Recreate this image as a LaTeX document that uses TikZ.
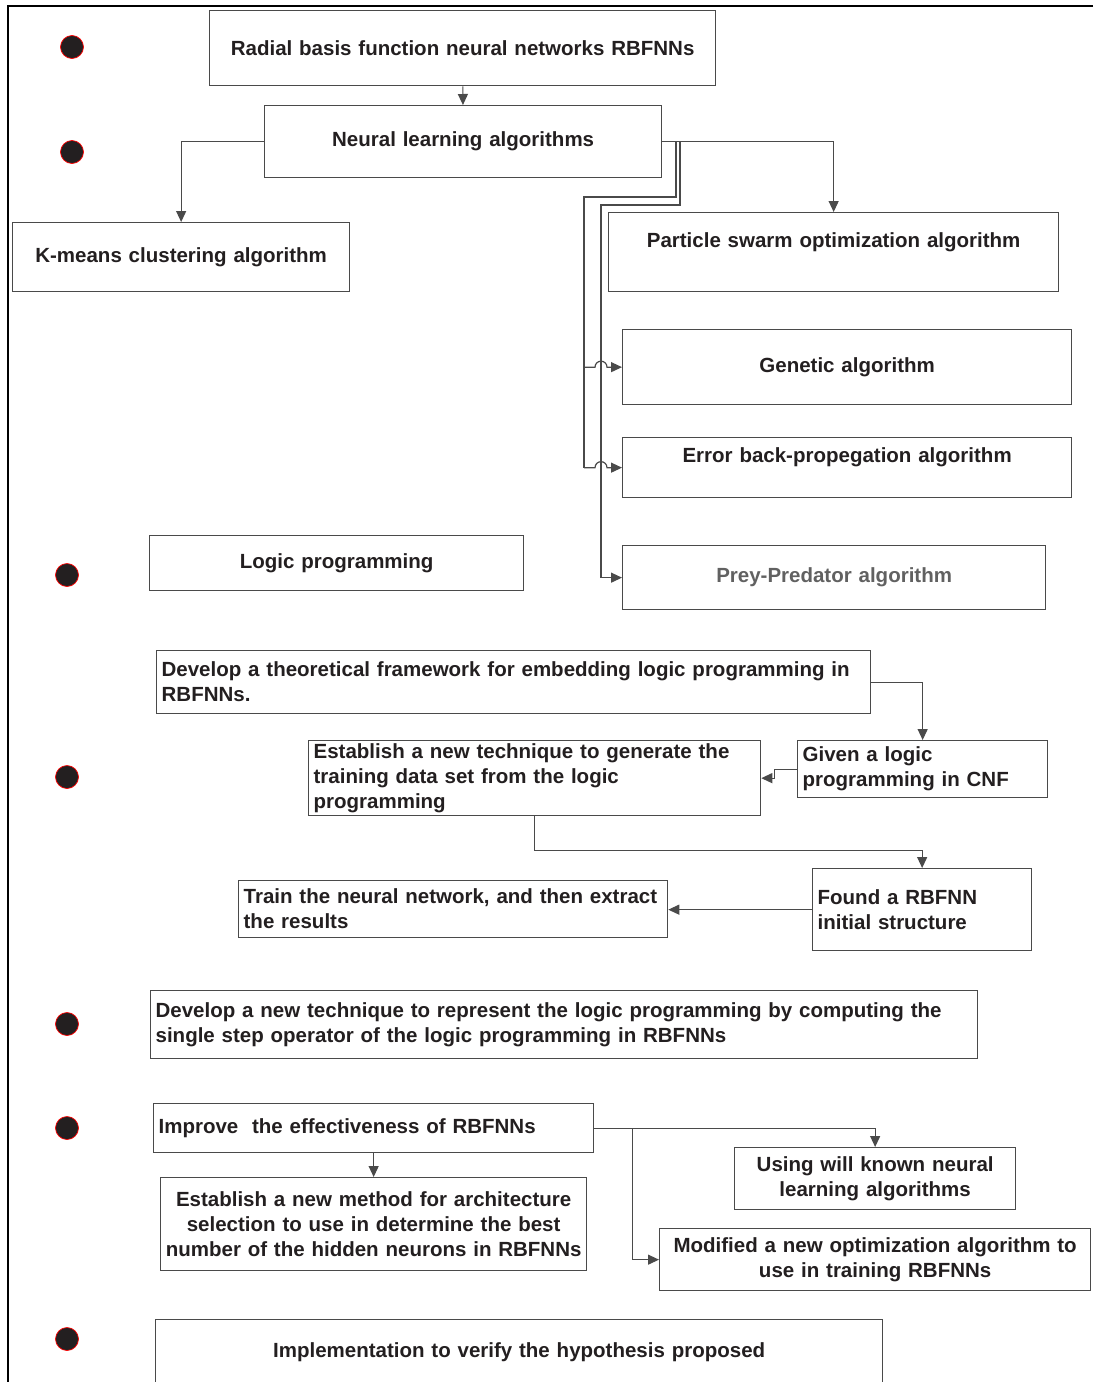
\documentclass[tikz,border=0pt]{standalone}
\usepackage{fontspec}
\setmainfont{Liberation Sans}
\usetikzlibrary{
  calc,
  positioning,
  arrows.meta
}
\definecolor{ink}{HTML}{231F20}
\definecolor{rule}{HTML}{4A4A4A}
\tikzset{%
  box/.style={draw=rule, line width=1.3pt, inner xsep=5pt, inner ysep=0pt,
    anchor=north west, text=ink,
    font=\bfseries\fontsize{20.5pt}{25pt}\selectfont}, % every frame of the chart
  link/.style={draw=rule, line width=1.2pt},
  arrowed/.style={link, -{Triangle[length=11pt,width=10pt]}},
  dot/.style={circle, fill=ink, draw=red, line width=0.7pt,
    minimum size=23pt, inner sep=0pt}
}

\begin{document}
\begin{tikzpicture}[x=1pt, y=-1pt]
  \clip (0,0) rectangle (1093,1382);
  % outer frame, only top and left are shown
  \draw[line width=2.2pt] (1093,6) -- (8,6) -- (8,1382);

  \foreach \y [count=\i] in {47,152,575,777,1024,1128,1339}{%
    \ifnum\i<3
      \node[dot] (dot\i) at (72,\y) {};
    \else
      \node[dot] (dot\i) at (67,\y) {};
    \fi
  }

  % first part: the learning algorithms
  \node[box, text width=496pt, minimum height=75pt, align=center] (rbf) at (209,10)
    {Radial basis function neural networks RBFNNs};
  \node[box, text width=387pt, minimum height=72pt, align=center] (nla) at (264,105)
    {Neural learning algorithms};
  \node[box, text width=327pt, minimum height=69pt, align=center] (km) at (12,222)
    {K-means clustering algorithm};
  \node[box, text width=440pt, minimum height=79pt, align=center,
    text height=15pt, text depth=25pt] (pso) at (608,212)
    {Particle swarm optimization algorithm};
  \node[box, text width=439pt, minimum height=75pt, align=center] (gen) at (622,329)
    {Genetic algorithm};
  \node[box, text width=439pt, minimum height=60pt, align=center,
    text height=15pt, text depth=26pt] (err) at (622,437)
    {Error back-propegation algorithm};
  \node[box, text width=413pt, minimum height=64pt, align=center, text=black!62] (prey) at (622,545)
    {Prey-Predator algorithm};

  \coordinate (busa) at (584,197);
  \coordinate (busb) at (601,205);
  \draw[arrowed] (rbf) -- (nla);
  \draw[arrowed] (nla.west) -| (km.north);
  \draw[arrowed] (nla.east) -| (pso.north);
  \draw[link] (nla.east) -| (676,197) -- (busa) -- (busa |- err.west);
  \draw[arrowed] (busa |- gen.west) -- ++(11,0) arc (180:360:6) -- (gen.west);
  \draw[arrowed] (busa |- err.west) -- ++(11,0) arc (180:360:6) -- (err.west);
  \draw[arrowed] (nla.east) -| (680,205) -- (busb) |- (prey.west);

  % second part: logic programming
  \node[box, text width=364pt, minimum height=55pt, align=center] (lgp) at (149,535)
    {Logic programming};
  \node[box, text width=704pt, minimum height=63pt, align=left] (dev) at (156,650)
    {Develop a theoretical framework for embedding logic programming in\\RBFNNs.};
  \node[box, text width=240pt, minimum height=57pt, align=left] (giv) at (797,740)
    {Given a logic\\programming in CNF};
  \node[box, text width=442pt, minimum height=75pt, align=left] (est) at (308,740)
    {Establish a new technique to generate the\\training data set from the logic\\programming};
  \node[box, text width=209pt, minimum height=82pt, align=left] (fnd) at (812,868)
    {Found a RBFNN\\initial structure};
  \node[box, text width=419pt, minimum height=57pt, align=left] (trn) at (238,880)
    {Train the neural network, and then extract\\the results};

  \draw[arrowed] (dev.east) -| (giv.north);
  \draw[arrowed] (giv.west) -| ([xshift=13pt]est.east) -- (est.east);
  \draw[arrowed] (est.south) -- ++(0,34) -| (fnd.north);
  \draw[arrowed] (fnd.west) -- (fnd.west -| trn.east);

  % third part
  \node[box, text width=817pt, minimum height=68pt, align=left] (rep) at (150,990)
    {Develop a new technique to represent the logic programming by computing the\\single step operator of the logic programming in RBFNNs};
  \node[box, text width=430pt, minimum height=49pt, align=left] (imp) at (153,1103)
    {Improve\ \ the effectiveness of RBFNNs};
  \node[box, text width=416pt, minimum height=93pt, align=center] (sel) at (160,1177)
    {Establish a new method for architecture\\selection to use in determine the best\\number of the hidden neurons in RBFNNs};
  \node[box, text width=271pt, minimum height=62pt, align=center] (use) at (734,1147)
    {Using will known neural\\learning algorithms};
  \node[box, text width=421pt, minimum height=62pt, align=center] (mod) at (659,1228)
    {Modified a new optimization algorithm to\\use in training RBFNNs};
  \node[box, text width=717pt, minimum height=70pt, align=center,
    text height=15pt, text depth=9pt] (ver) at (155,1319)
    {Implementation to verify the hypothesis proposed};

  \draw[arrowed] (imp.south) -- (sel.north);
  \draw[arrowed] (imp.east) -| (use.north);
  \draw[arrowed] (imp.east) -- ++(38,0) |- (mod.west);
\end{tikzpicture}
\end{document}
